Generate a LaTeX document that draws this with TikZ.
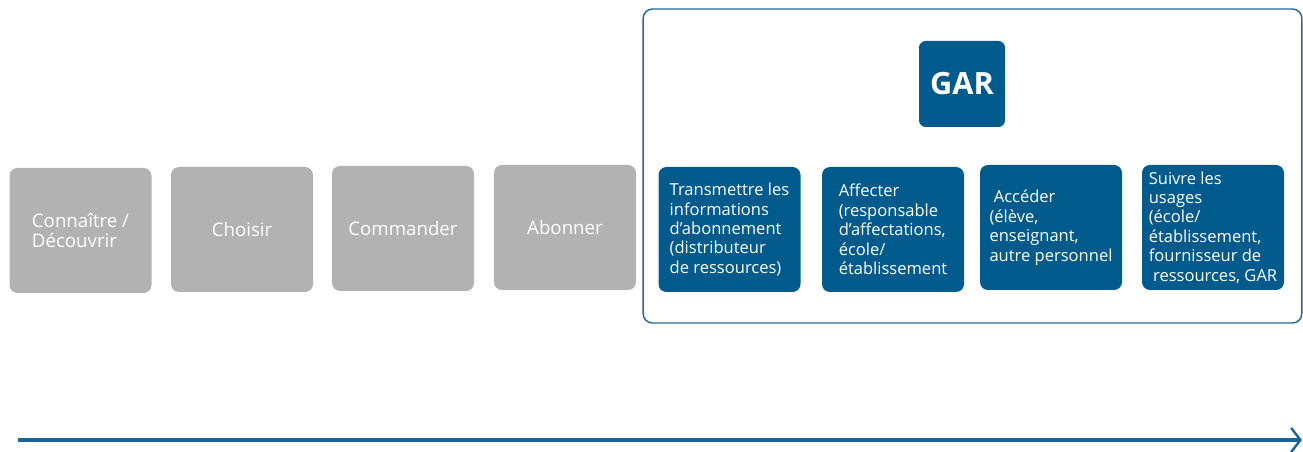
\documentclass[tikz,border=0pt]{standalone}
\usepackage{fontspec}
\setmainfont{Open Sans}
\usetikzlibrary{arrows.meta}
\definecolor{garblue}{RGB}{0,90,140}
\definecolor{frameblue}{RGB}{40,105,150}
\definecolor{stepgray}{RGB}{178,178,178}
\definecolor{axisblue}{RGB}{25,100,150}
\begin{document}
\begin{tikzpicture}[x=0.75pt,y=-0.75pt,
  graybox/.style={fill=stepgray, rounded corners=6pt, minimum width=106.5pt,
    minimum height=93.75pt, inner sep=0pt, text=white, align=left,
    font=\fontsize{14}{14.5}\selectfont},
  bluebox/.style={fill=garblue, rounded corners=6pt, minimum width=106.5pt,
    minimum height=93.75pt, inner sep=0pt, text=white, align=left,
    font=\fontsize{12.4}{14.6}\selectfont},
  garbox/.style={fill=garblue, rounded corners=5pt, minimum width=64.5pt,
    minimum height=64.5pt, inner sep=0pt, text=white,
    font=\fontsize{23}{26}\selectfont\bfseries},
  framebox/.style={draw=frameblue, line width=1.1pt, rounded corners=7pt,
    minimum width=494pt, minimum height=235.5pt, inner sep=0pt}]
\useasboundingbox (0,0) rectangle (1303,452);

% container of the GAR steps
\node[framebox] (frame) at (972.5,166) {};
\node[garbox] (gar) at (962,84) {GAR};

% steps before the GAR
\node[graybox] (g1) at (80.5,230.5) {Connaître /\\Découvrir};
\node[graybox] (g2) at (242,229.5) {Choisir};
\node[graybox] (g3) at (403,228.5) {Commander};
\node[graybox] (g4) at (565,227.5) {\raisebox{-2pt}{Abonner}};

% steps handled by the GAR
\node[bluebox] (b1) at (729.5,229.5) {Transmettre les\\informations\\d’abonnement\\(distributeur\\de ressources)};
\node[bluebox] (b2) at (893,229.5) {Affecter\\(responsable\\d’affectations,\\école/\\établissement};
\node[bluebox] (b3) at (1051,227.5) {\ Accéder\\(élève,\\enseignant,\\autre personnel};
\node[bluebox] (b4) at (1213,227.5) {Suivre les\\usages\\(école/\\établissement,\\fournisseur de\\\ ressources, GAR};

% time axis
\coordinate (t0) at (18,440);
\coordinate (t1) at (1302,440);
\draw[axisblue, line width=2.3pt, -{Straight Barb[length=7pt,width=18pt,line width=1.8pt]}] (t0) -- (t1);
\end{tikzpicture}
\end{document}
